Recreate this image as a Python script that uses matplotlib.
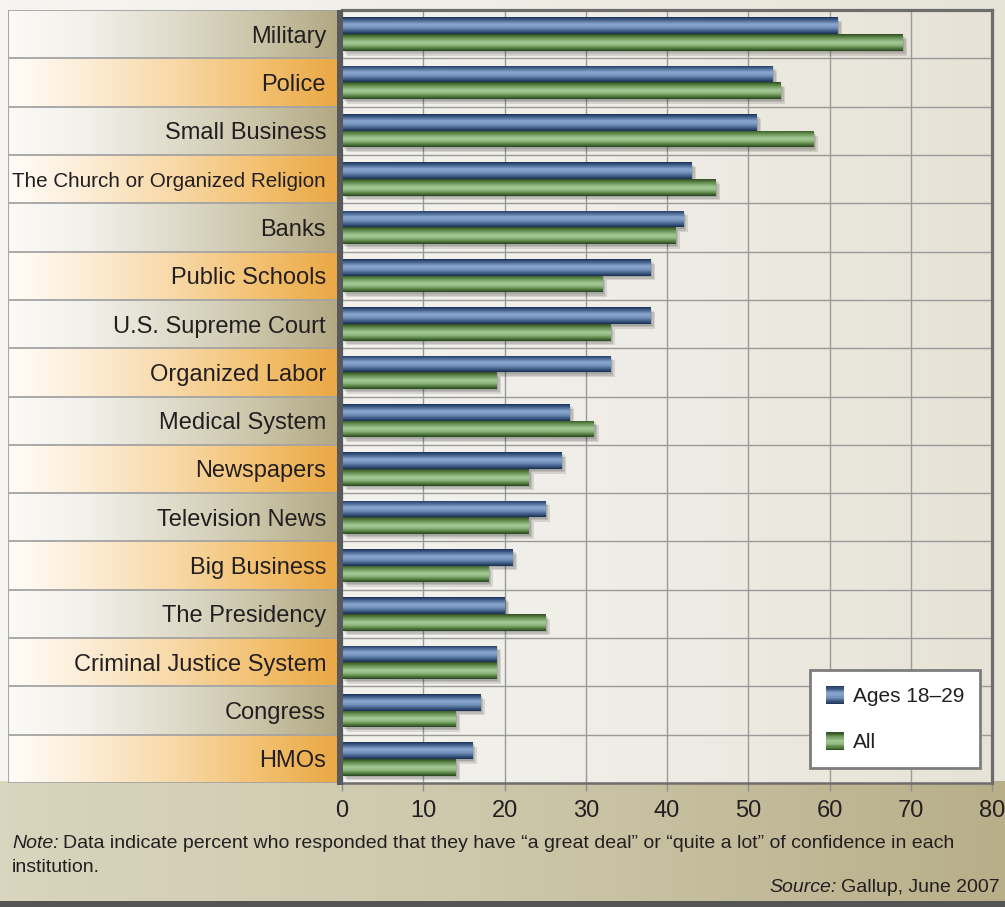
import matplotlib
matplotlib.use("Agg")
import numpy as np
import matplotlib.pyplot as plt
from matplotlib.colors import LinearSegmentedColormap
from matplotlib.patches import Rectangle, Patch
from matplotlib.legend_handler import HandlerBase
from matplotlib import patheffects as pe
from matplotlib import font_manager as fm
from matplotlib.transforms import ScaledTranslation

# ---------------------------------------------------------------- data
categories = [
    "Military", "Police", "Small Business", "The Church or Organized Religion",
    "Banks", "Public Schools", "U.S. Supreme Court", "Organized Labor",
    "Medical System", "Newspapers", "Television News", "Big Business",
    "The Presidency", "Criminal Justice System", "Congress", "HMOs",
]
ages_18_29 = [61, 53, 51, 43, 42, 38, 38, 33, 28, 27, 25, 21, 20, 19, 17, 16]
all_adults = [69, 54, 58, 46, 41, 32, 33, 19, 31, 23, 23, 18, 25, 19, 14, 14]
series_labels = ["Ages 18\u201329", "All"]
x_ticks = [0, 10, 20, 30, 40, 50, 60, 70, 80]
note_lead = "Note:"
note_body = ("Data indicate percent who responded that they have \u201ca great deal\u201d "
             "or \u201cquite a lot\u201d of confidence in each")
note_tail = "institution."
source_lead = "Source:"
source_body = "Gallup, June 2007"

# ---------------------------------------------------------------- fonts
def font_available(name):
    try:
        fm.findfont(fm.FontProperties(family=name), fallback_to_default=False)
        return True
    except Exception:
        return False

BASE = "Liberation Sans" if font_available("Liberation Sans") else "DejaVu Sans"
NARROW = "Liberation Sans Narrow" if font_available("Liberation Sans Narrow") else None
plt.rcParams["font.family"] = [BASE, "DejaVu Sans"]
TXT = "#231f20"

# ---------------------------------------------------------------- figure
W, H = 1005, 907
fig = plt.figure(figsize=(W / 100, H / 100), dpi=100)

def px_axes(x0, y0, x1, y1, **kw):
    """Axes placed by pixel box (top-left origin)."""
    return fig.add_axes([x0 / W, (H - y1) / H, (x1 - x0) / W, (y1 - y0) / H], **kw)

def gradient(ax, extent, colors, vertical=False, n=256, **kw):
    cmap = LinearSegmentedColormap.from_list("g", colors)
    v = np.linspace(0, 1, n)
    arr = v[:, None] if vertical else v[None, :]
    return ax.imshow(arr, extent=extent, cmap=cmap, aspect="auto",
                     interpolation="bilinear", origin="upper", **kw)

# background layer
bg = px_axes(0, 0, W, H, zorder=0)
bg.set_xlim(0, W)
bg.set_ylim(H, 0)
bg.axis("off")
gradient(bg, (0, W, H, 0), ["#f6f5f1", "#efede5", "#e6e3d7"])
gradient(bg, (0, W, 901, 781), ["#d9d5be", "#cdc7aa", "#b8af89"])
bg.add_patch(Rectangle((0, 901), W, 6, color="#555555", lw=0))

# plot geometry (pixels)
PL, PR, PT, PB = 342, 992, 10, 783
LBL_L = 8
n = len(categories)
ylim = (n - 0.5, -0.5)

# category label panel
lp = px_axes(LBL_L, PT, PL - 5, PB, zorder=1)
lp.set_xlim(0, 1)
lp.set_ylim(*ylim)
lp.axis("off")
tan_row = ["#fbfaf7", "#f1f0e9", "#e0dccb", "#cbc5aa", "#b2a983"]
orange_row = ["#fffdf9", "#fcecd4", "#f8d9a8", "#f3c274", "#eaa845"]
for i in range(n):
    gradient(lp, (0, 1, i + 0.5, i - 0.5), orange_row if i % 2 else tan_row)
for i in range(n + 1):
    lp.axhline(i - 0.5, color="#a3a3a3", lw=1.3)
lp.axvline(0, color="#a8a8a8", lw=1.5)

# main plot
ax = px_axes(PL, PT, PR, PB, zorder=2)
ax.set_xlim(0, 80)
ax.set_ylim(*ylim)
gradient(ax, (0, 1, 0, 1), ["#f3f2ed", "#eeece5", "#e6e2d5"],
         transform=ax.transAxes, zorder=0)

blue_cmap = LinearSegmentedColormap.from_list(
    "blue", [(0, "#1b3256"), (0.18, "#46648f"), (0.42, "#8aa8cf"),
             (0.62, "#7594bd"), (0.85, "#3b5883"), (1, "#1a2e4e")])
green_cmap = LinearSegmentedColormap.from_list(
    "green", [(0, "#2f4b23"), (0.18, "#5c8847"), (0.48, "#a6ca99"),
              (0.66, "#8fb77e"), (0.86, "#4e7a3b"), (1, "#2a4320")])

y = np.arange(n)
bh = 0.345
shadow = [pe.SimplePatchShadow(offset=(o, -o), shadow_rgbFace="#000000", alpha=0.11)
          for o in (3.4, 2.3, 1.2)] + [pe.Normal()]

blue_bars = ax.barh(y - bh / 2, ages_18_29, height=bh, color="#5b79a4", lw=0, zorder=3)
green_bars = ax.barh(y + bh / 2, all_adults, height=bh, color="#6f9a5e", lw=0, zorder=3)

grad_v = np.linspace(0, 1, 64)[:, None]
for bars, cmap in ((blue_bars, blue_cmap), (green_bars, green_cmap)):
    for bar in bars:
        bar.set_path_effects(shadow)
        x0, y0 = bar.get_x(), bar.get_y()
        w, h = bar.get_width(), bar.get_height()
        im = ax.imshow(grad_v, extent=(x0, x0 + w, y0 + h, y0), origin="upper",
                       cmap=cmap, aspect="auto", interpolation="bilinear", zorder=4)
        im.set_clip_path(bar)
ax.set_xlim(0, 80)
ax.set_ylim(*ylim)

# grid
ax.set_xticks(x_ticks)
ax.set_yticks(y)
ax.set_yticks(np.arange(n - 1) + 0.5, minor=True)
ax.grid(axis="x", which="major", color="#9a9a9a", lw=1.0, zorder=1)
ax.grid(axis="y", which="minor", color="#9a9a9a", lw=1.0, zorder=1)
ax.set_axisbelow(True)

ax.set_yticklabels(categories, fontsize=17, color=TXT)
if NARROW:
    ax.get_yticklabels()[3].set_fontfamily(NARROW)
    ax.get_yticklabels()[3].set_fontsize(17.5)
else:
    ax.get_yticklabels()[3].set_fontsize(14.9)
# category names sit slightly below the row centre
nudge = ScaledTranslation(0, -2 / 72, fig.dpi_scale_trans)
for lbl in ax.get_yticklabels():
    lbl.set_transform(lbl.get_transform() + nudge)
ax.tick_params(axis="y", which="both", length=0, pad=11.5)
ax.tick_params(axis="x", length=6, width=1, color="#8c8c8c", pad=6,
               labelsize=17, labelcolor=TXT)

for side in ("top", "right"):
    ax.spines[side].set_color("#6d6d6d")
    ax.spines[side].set_linewidth(2.3)
ax.spines["bottom"].set_color("#6d6d6d")
ax.spines["bottom"].set_linewidth(1.8)
ax.spines["left"].set_visible(False)

# thick dark value axis
fig.patches.append(Rectangle((336.5 / W, (H - PB - 2) / H), 6.5 / W, (PB - PT + 2) / H,
                             transform=fig.transFigure, color="#58595b", lw=0, zorder=5))

# legend with gradient swatches
class GradientSwatch(HandlerBase):
    def __init__(self, cmap, steps=14):
        super().__init__()
        self.cmap, self.steps = cmap, steps

    def create_artists(self, legend, orig_handle, xdescent, ydescent,
                       width, height, fontsize, trans):
        sh = height / self.steps
        return [Rectangle((-xdescent, -ydescent + k * sh), width, sh * 1.05,
                          facecolor=self.cmap(1 - (k + 0.5) / self.steps),
                          edgecolor="none", transform=trans)
                for k in range(self.steps)]

h_blue, h_green = Patch(color="#5b79a4"), Patch(color="#6f9a5e")
leg = ax.legend([h_blue, h_green], series_labels,
                handler_map={h_blue: GradientSwatch(blue_cmap),
                             h_green: GradientSwatch(green_cmap)},
                loc="lower right", bbox_to_anchor=((980 - PL) / (PR - PL), (PB - 768) / (PB - PT)),
                borderaxespad=0, fontsize=15, frameon=True, fancybox=False,
                framealpha=1, facecolor="white", edgecolor="#7d7d7d",
                handlelength=0.85, handleheight=0.95, handletextpad=0.45,
                labelspacing=1.25, borderpad=0.75)
leg.get_frame().set_linewidth(2.0)
for t in leg.get_texts():
    t.set_color(TXT)
leg.set_zorder(10)

# note and source
FS_NOTE = 14
t1 = bg.text(12, 844, note_lead, fontsize=FS_NOTE, style="italic", color=TXT,
             va="center", ha="left")
bg.annotate(note_body, xy=(1, 0), xycoords=t1, xytext=(3.5, 0), textcoords="offset points",
            fontsize=FS_NOTE, color=TXT, va="bottom", ha="left")
bg.text(12, 868, note_tail, fontsize=FS_NOTE, color=TXT, va="center", ha="left")
s2 = bg.text(1000, 888, source_body, fontsize=FS_NOTE, color=TXT, va="center", ha="right")
bg.annotate(source_lead, xy=(0, 0), xycoords=s2, xytext=(-3.5, 0), textcoords="offset points",
            fontsize=FS_NOTE, style="italic", color=TXT, va="bottom", ha="right")

fig.savefig("out.png", dpi=100)
